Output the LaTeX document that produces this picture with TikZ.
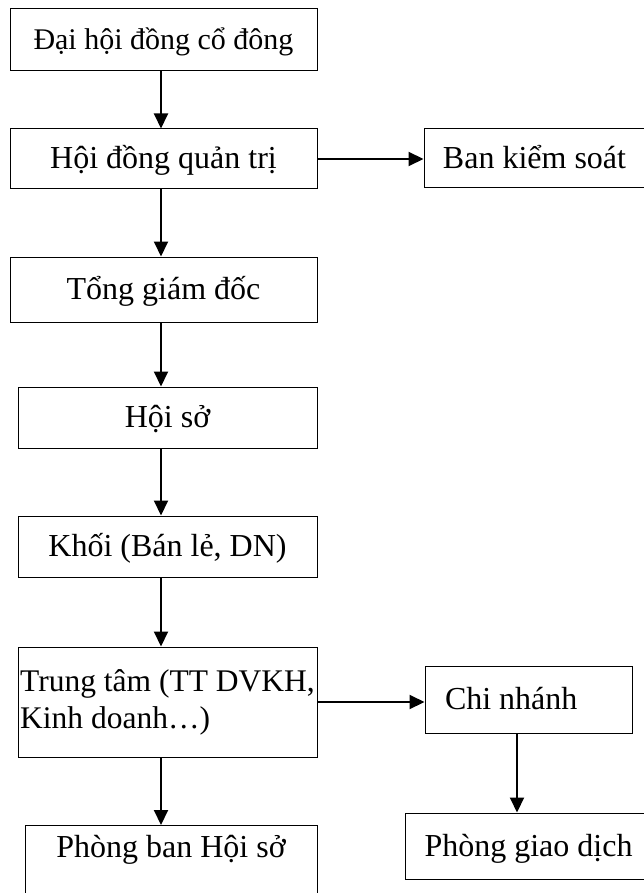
\documentclass[tikz,border=0pt]{standalone}
\usepackage{fontspec}
\setmainfont{Liberation Serif}
\usetikzlibrary{arrows.meta}

\begin{document}
\begin{tikzpicture}[x=1pt,y=-1pt,
  vien/.style={draw,line width=1pt,font=\fontsize{32pt}{37pt}\selectfont},
  hop/.style={vien,text height=21pt,text depth=1pt,inner sep=0pt},
  muiten/.style={line width=2pt,-{Triangle[length=15pt,width=14pt]}}]
\useasboundingbox (0,0) rectangle (643,893);
\coordinate (truc) at (161,0);
\coordinate (nhanh) at (517,0);
\node[hop,minimum width=307,minimum height=62,font=\fontsize{30pt}{36pt}\selectfont] (dhdcd) at (163.5,40) {Đại hội đồng cổ đông};
\node[hop,minimum width=307,minimum height=60] (hdqt) at (163.5,159) {Hội đồng quản trị};
\node[hop,minimum width=221,minimum height=59] (bks) at (534.5,158.5) {Ban kiểm soát};
\node[hop,minimum width=307,minimum height=65] (tgd) at (163.5,289.5) {Tổng giám đốc};
\node[hop,minimum width=299,minimum height=61] (hoiso) at (167.5,417.5) {Hội sở};
\node[hop,minimum width=299,minimum height=61] (khoi) at (167.5,546.5) {Khối (Bán lẻ, DN)};
\node[vien,inner sep=0pt,align=left,minimum width=299,minimum height=110,
  font=\fontsize{31.5pt}{37pt}\selectfont] (trungtam) at (167.5,702) {Trung tâm (TT DVKH,\\Kinh doanh…)};
\node[hop,text width=167pt,inner xsep=20pt,align=flush left,minimum height=67] (chinhanh) at (528.5,699.5) {Chi nhánh};
\node[hop,minimum width=247,minimum height=66] (pgd) at (528.5,846) {Phòng giao dịch};
\node[hop,anchor=north,inner ysep=11pt,text depth=60pt,minimum width=292] (pbhs) at (171,825) {Phòng ban Hội sở};
% mui ten doc
\draw[muiten] (dhdcd.south -| truc) -- (hdqt.north -| truc);
\draw[muiten] (hdqt.south -| truc) -- (tgd.north -| truc);
\draw[muiten] (tgd.south -| truc) -- (hoiso.north -| truc);
\draw[muiten] (hoiso.south -| truc) -- (khoi.north -| truc);
\draw[muiten] (khoi.south -| truc) -- (trungtam.north -| truc);
\draw[muiten] (trungtam.south -| truc) -- (pbhs.north -| truc);
\draw[muiten] (chinhanh.south -| nhanh) -- (pgd.north -| nhanh);
% mui ten ngang
\draw[muiten] (hdqt.east) -- (hdqt.east -| bks.west);
\draw[muiten] (trungtam.east) -- (trungtam.east -| chinhanh.west);
\end{tikzpicture}
\end{document}
